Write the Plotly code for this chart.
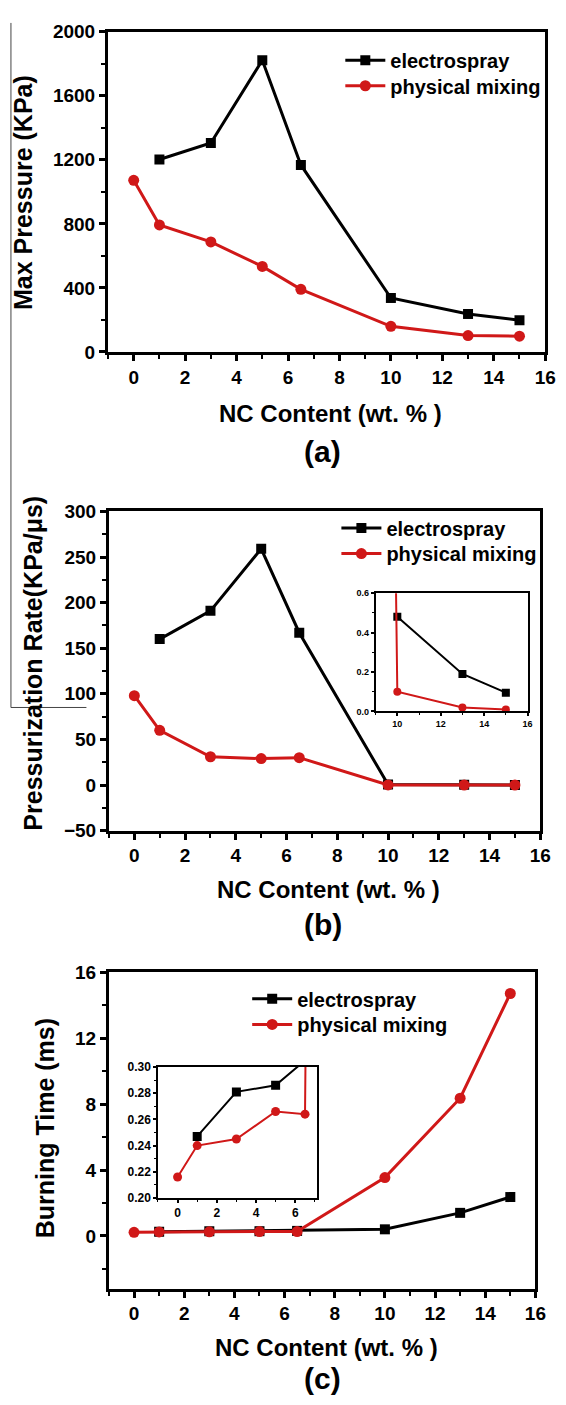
import plotly.graph_objects as go

# ---------------- data ----------------
nc_es = [1, 3, 5, 6.5, 10, 13, 15]
nc_pm = [0, 1, 3, 5, 6.5, 10, 13, 15]

pressure_es = [1202, 1305, 1822, 1168, 337, 237, 198]
pressure_pm = [1072, 793, 687, 534, 391, 160, 102, 98]

rate_es = [160, 191, 259, 167, 0.48, 0.19, 0.095]
rate_pm = [98, 60, 31, 29, 30, 0.10, 0.02, 0.01]

burn_es = [0.247, 0.281, 0.286, 0.305, 0.40, 1.40, 2.36]
burn_pm = [0.216, 0.240, 0.245, 0.266, 0.264, 3.54, 8.36, 14.72]

series_names = ["electrospray", "physical mixing"]
panel_labels = ["(a)", "(b)", "(c)"]
x_title = "NC Content (wt. % )"
y_titles = ["Max Pressure (KPa)", "Pressurization Rate(KPa/\u03bcs)", "Burning Time (ms)"]

BLACK = "#000000"
RED = "#d01818"
FONT = "Arial, Liberation Sans, sans-serif"

# the page body has an 8px margin; lay out in window pixels and convert
OFF = 8
W, H = 566 - OFF, 1405 - OFF

def px(x):
    return (x - OFF) / W

def py(y):
    return 1 - (y - OFF) / H

fig = go.Figure()

def add_pair(xs_es, ys_es, xs_pm, ys_pm, xa, ya, legends=None, lw=3, ms_sq=10, ms_c=11):
    show = legends is not None
    lg = legends if show else ("legend", "legend")
    fig.add_trace(go.Scatter(x=xs_es, y=ys_es, name=series_names[0], mode="lines+markers",
                             line=dict(color=BLACK, width=lw),
                             marker=dict(symbol="square", size=ms_sq, color=BLACK),
                             xaxis=xa, yaxis=ya, showlegend=show, legend=lg[0]))
    fig.add_trace(go.Scatter(x=xs_pm, y=ys_pm, name=series_names[1], mode="lines+markers",
                             line=dict(color=RED, width=lw),
                             marker=dict(symbol="circle", size=ms_c, color=RED),
                             xaxis=xa, yaxis=ya, showlegend=show, legend=lg[1]))

add_pair(nc_es, pressure_es, nc_pm, pressure_pm, "x", "y", ("legend", "legend2"))
add_pair(nc_es, rate_es, nc_pm, rate_pm, "x2", "y2", ("legend3", "legend4"))
add_pair(nc_es, burn_es, nc_pm, burn_pm, "x3", "y3", ("legend5", "legend6"))

# insets
ins_b_es_x = [x for x in nc_es if x >= 10]
ins_b_es_y = [y for x, y in zip(nc_es, rate_es) if x >= 10]
add_pair(ins_b_es_x, ins_b_es_y, nc_pm, rate_pm, "x4", "y4", None, lw=2, ms_sq=8, ms_c=8)
add_pair(nc_es, burn_es, nc_pm, burn_pm, "x5", "y5", None, lw=2, ms_sq=9, ms_c=9)

TICKFONT = dict(family=FONT, size=19, color="black", weight="bold")

def main_x(anchor, left, right):
    return dict(domain=[px(left), px(right)], anchor=anchor, range=[-1, 16], dtick=2, tick0=0,
                showline=True, linewidth=3, linecolor="black", mirror=True,
                ticks="outside", ticklen=6, tickwidth=3, tickcolor="black",
                minor=dict(ticks="outside", ticklen=4, tickwidth=2, dtick=1, tickcolor="black"),
                showgrid=False, zeroline=False, tickfont=TICKFONT)

def main_y(anchor, top, bottom, rng, dt, mdt):
    return dict(domain=[py(bottom), py(top)], anchor=anchor, range=rng, dtick=dt, tick0=0,
                showline=True, linewidth=3, linecolor="black", mirror=True,
                ticks="outside", ticklen=6, tickwidth=3, tickcolor="black",
                minor=dict(ticks="outside", ticklen=4, tickwidth=2, dtick=mdt, tickcolor="black"),
                showgrid=False, zeroline=False, tickfont=TICKFONT)

def inset_x(anchor, left, right, rng, fs):
    return dict(domain=[px(left), px(right)], anchor=anchor, range=rng, dtick=2, tick0=0,
                showline=True, linewidth=1.5, linecolor="black", mirror=True,
                ticks="outside", ticklen=3, tickwidth=1.5, tickcolor="black",
                minor=dict(ticks="outside", ticklen=2, tickwidth=1, dtick=1, tickcolor="black"),
                showgrid=False, zeroline=False,
                tickfont=dict(family=FONT, size=fs, color="black", weight="bold"))

def inset_y(anchor, top, bottom, rng, dt, mdt, fmt, fs):
    return dict(domain=[py(bottom), py(top)], anchor=anchor, range=rng, dtick=dt, tick0=0,
                showline=True, linewidth=1.5, linecolor="black", mirror=True,
                ticks="outside", ticklen=3, tickwidth=1.5, tickcolor="black",
                minor=dict(ticks="outside", ticklen=2, tickwidth=1, dtick=mdt, tickcolor="black"),
                showgrid=False, zeroline=False, tickformat=fmt,
                tickfont=dict(family=FONT, size=fs, color="black", weight="bold"))

legend_common = dict(font=dict(family=FONT, size=20, color="black", weight="bold"),
                     bgcolor="rgba(0,0,0,0)", xanchor="left", yanchor="top",
                     tracegroupgap=0, itemwidth=40)

def leg(x_text, y_center):
    # legend text starts ~45px right of the legend's left edge; item centre ~20px below top
    return dict(x=px(x_text - 45), y=py(y_center - 20), **legend_common)

fig.update_layout(
    width=W, height=H, margin=dict(l=0, r=0, t=0, b=0),
    paper_bgcolor="white", plot_bgcolor="white",
    font=dict(family=FONT, color="black"),
    xaxis=main_x("y", 110, 556), yaxis=main_y("x", 22, 347, [0, 2000], 400, 200),
    xaxis2=main_x("y2", 111, 551), yaxis2=main_y("x2", 509, 833, [-50, 300], 50, 25),
    xaxis3=main_x("y3", 111, 546), yaxis3=main_y("x3", 977, 1298, [-3.2, 16], 4, 2),
    xaxis4=inset_x("y4", 383, 538, [9, 16], 9),
    yaxis4=inset_y("x4", 592, 712, [0, 0.6], 0.2, 0.1, ".1f", 9),
    xaxis5=inset_x("y5", 161, 323, [-1, 7.1], 12),
    yaxis5=inset_y("x5", 1073, 1206, [0.2, 0.3], 0.02, 0.01, ".2f", 12),
    legend=leg(392, 51), legend2=leg(392, 77),
    legend3=leg(388, 526), legend4=leg(388, 552),
    legend5=leg(297, 1004), legend6=leg(297, 1030),
    showlegend=True,
)

annotations = []
x_title_y = [410, 893, 1358]
x_title_x = [337, 335, 333]
label_y = [448, 928, 1389]
for i in range(3):
    annotations.append(dict(text=x_title, x=px(x_title_x[i]), y=py(x_title_y[i]), xref="paper", yref="paper",
                            showarrow=False, xanchor="center", yanchor="middle",
                            font=dict(family=FONT, size=24, color="black", weight="bold")))
    annotations.append(dict(text=panel_labels[i], x=px(329), y=py(label_y[i]), xref="paper", yref="paper",
                            showarrow=False, xanchor="center", yanchor="middle",
                            font=dict(family=FONT, size=30, color="black", weight="bold")))
y_title_x = [24, 34, 46]
y_title_y = [185, 663, 1135]
for i in range(3):
    annotations.append(dict(text=y_titles[i], x=px(y_title_x[i]), y=py(y_title_y[i]), xref="paper", yref="paper",
                            showarrow=False, xanchor="center", yanchor="middle", textangle=-90,
                            font=dict(family=FONT, size=25, color="black", weight="bold")))
fig.update_layout(annotations=annotations)

# stray frame lines visible in the source figure
fig.add_shape(type="line", xref="paper", yref="paper", x0=px(11), x1=px(11), y0=py(13), y1=py(708),
              line=dict(color="#444444", width=1))
fig.add_shape(type="line", xref="paper", yref="paper", x0=px(11), x1=px(88), y0=py(708), y1=py(708),
              line=dict(color="#444444", width=1))

fig.write_html("out.html")
